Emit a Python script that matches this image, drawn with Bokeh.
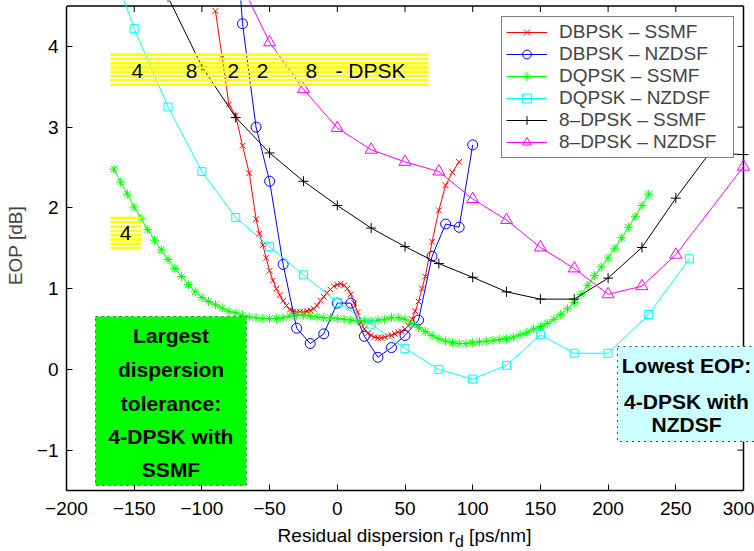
from bokeh.plotting import figure
from bokeh.models import Range1d, FixedTicker, Legend, LegendItem, Div
from bokeh.layouts import column
from bokeh.core.properties import value
from bokeh.embed import file_html
from bokeh.resources import INLINE

FONT = "Liberation Sans"

x_ticks = [-200, -150, -100, -50, 0, 50, 100, 150, 200, 250, 300]
y_ticks = [-1, 0, 1, 2, 3, 4]
x_min, x_max = -200, 300
y_min, y_max = -1.5, 4.5

# DBPSK - SSMF (red, x)
dbpsk_ssmf_x = [-90, -85, -80, -75, -70, -65, -60, -57.5, -55, -52.5, -50, -47.5, -45, -42.5, -40,
                -37.5, -35, -32.5, -30, -27.5, -25, -22.5, -20, -17.5, -15, -12.5, -10, -7.5, -5,
                -2.5, 0, 2.5, 5, 7.5, 10, 12.5, 15, 17.5, 20, 22.5, 25, 27.5, 30, 32.5, 35, 37.5,
                40, 42.5, 45, 47.5, 50, 52.5, 55, 57.5, 60, 62.5, 65, 70, 75, 80, 85, 90]
dbpsk_ssmf_y = [4.44, 3.86, 3.28, 3.14, 2.77, 2.43, 1.86, 1.68, 1.54, 1.38, 1.22, 1.10, 1.00, 0.92, 0.85,
                0.79, 0.74, 0.72, 0.71, 0.71, 0.71, 0.72, 0.73, 0.75, 0.79, 0.85, 0.90, 0.95, 0.99,
                1.03, 1.05, 1.06, 1.04, 1.00, 0.93, 0.82, 0.71, 0.58, 0.50, 0.45, 0.42, 0.40, 0.39, 0.39, 0.40, 0.41,
                0.42, 0.44, 0.46, 0.47, 0.50, 0.54, 0.62, 0.72, 0.84, 1.00, 1.15, 1.58, 1.97, 2.28, 2.44, 2.57]

# DBPSK - NZDSF (blue, o)
dbpsk_nzdsf_x = [-80, -70, -60, -50, -40, -30, -20, -10, 0, 10, 20, 30, 40, 50, 60, 70, 80, 90, 100]
dbpsk_nzdsf_y = [6.6, 4.28, 3.00, 2.33, 1.30, 0.51, 0.32, 0.44, 0.82, 0.82, 0.41, 0.15, 0.27, 0.42, 0.61,
                 1.40, 1.80, 1.76, 2.78]

# DQPSK - SSMF (green, *)
dqpsk_ssmf_x = [-165, -160, -155, -150, -145, -140, -135, -130, -125, -120, -115, -110, -105, -100, -95,
                -90, -85, -80, -75, -70, -65, -60, -55, -50, -45, -40, -35, -30, -25, -20, -15, -10,
                -5, 0, 5, 10, 15, 20, 25, 30, 35, 40, 45, 50, 55, 60, 65, 70, 75, 80, 85, 90, 95, 100,
                105, 110, 115, 120, 125, 130, 135, 140, 145, 150, 155, 160, 165, 170, 175, 180, 185,
                190, 195, 200, 205, 210, 215, 220, 225, 230]
dqpsk_ssmf_y = [2.48, 2.32, 2.17, 2.01, 1.87, 1.73, 1.60, 1.48, 1.36, 1.25, 1.15, 1.05, 0.96, 0.89, 0.84,
                0.80, 0.76, 0.72, 0.70, 0.67, 0.65, 0.64, 0.63, 0.63, 0.63, 0.64, 0.66, 0.67, 0.67, 0.66,
                0.65, 0.64, 0.64, 0.63, 0.62, 0.61, 0.60, 0.60, 0.60, 0.61, 0.62, 0.64, 0.64, 0.62, 0.57,
                0.52, 0.47, 0.42, 0.38, 0.35, 0.33, 0.32, 0.32, 0.33, 0.34, 0.35, 0.36, 0.37, 0.38, 0.40,
                0.43, 0.46, 0.50, 0.53, 0.57, 0.62, 0.68, 0.75, 0.83, 0.93, 1.04, 1.16, 1.27, 1.38, 1.50,
                1.63, 1.76, 1.89, 2.03, 2.17]

# DQPSK - NZDSF (cyan, square)
dqpsk_nzdsf_x = [-175, -150, -125, -100, -75, -50, -25, 0, 25, 50, 75, 100, 125, 150, 175, 200, 230, 260]
dqpsk_nzdsf_y = [5.4, 4.22, 3.25, 2.45, 1.88, 1.52, 1.17, 0.83, 0.56, 0.26, 0.00, -0.12, 0.05, 0.43,
                 0.20, 0.20, 0.68, 1.37]

# 8-DPSK - SSMF (black, +)
dpsk8_ssmf_x = [-125, -100, -75, -50, -25, 0, 25, 50, 75, 100, 125, 150, 175, 200, 225, 250, 275, 300]
dpsk8_ssmf_y = [4.61, 3.75, 3.12, 2.68, 2.33, 2.03, 1.75, 1.52, 1.31, 1.14, 0.96, 0.87, 0.87, 1.13,
                1.51, 2.12, 2.68, 2.66]

# 8-DPSK - NZDSF (magenta, triangle)
dpsk8_nzdsf_x = [-75, -50, -25, 0, 25, 50, 75, 100, 125, 150, 175, 200, 225, 250, 300]
dpsk8_nzdsf_y = [4.91, 4.05, 3.47, 2.99, 2.72, 2.57, 2.45, 2.11, 1.85, 1.51, 1.25, 0.93, 1.03, 1.42, 2.51]

series = [
    ("DBPSK \u2013 SSMF", dbpsk_ssmf_x, dbpsk_ssmf_y, "#ff0000", "x", 8),
    ("DBPSK \u2013 NZDSF", dbpsk_nzdsf_x, dbpsk_nzdsf_y, "#0000ff", "circle", 10),
    ("DQPSK \u2013 SSMF", dqpsk_ssmf_x, dqpsk_ssmf_y, "#00ff00", "asterisk", 9),
    ("DQPSK \u2013 NZDSF", dqpsk_nzdsf_x, dqpsk_nzdsf_y, "#00ffff", "square", 8),
    ("8\u2013DPSK \u2013 SSMF", dpsk8_ssmf_x, dpsk8_ssmf_y, "#000000", "cross", 10),
    ("8\u2013DPSK \u2013 NZDSF", dpsk8_nzdsf_x, dpsk8_nzdsf_y, "#ff00ff", "triangle", 12),
]

# layout (pixels): frame runs to the window's right edge so the cyan note can overflow the box
W, H = 754, 525
left_px, right_px, top_px, bottom_px = 66, 743, 5.5, 490
xs_px = (right_px - left_px) / (x_max - x_min)
ys_px = (bottom_px - top_px) / (y_max - y_min)
x_end = x_max + (W - right_px) / xs_px
y_end = y_max + top_px / ys_px

p = figure(width=W, height=H, output_backend="svg", toolbar_location=None,
           x_range=Range1d(x_min, x_end), y_range=Range1d(y_min, y_end),
           min_border_left=left_px, min_border_right=0, min_border_top=0,
           min_border_bottom=H - bottom_px,
           background_fill_color="white", border_fill_color="white")
p.grid.visible = False
p.outline_line_color = None

xa = p.xaxis[0]
ya = p.yaxis[0]
for ax, ticks, bnds in [(xa, x_ticks, (x_min, x_max)), (ya, y_ticks, (y_min, y_max))]:
    ax.ticker = FixedTicker(ticks=ticks)
    ax.bounds = bnds
    ax.major_tick_in = 6
    ax.major_tick_out = 0
    ax.minor_tick_line_color = None
    ax.axis_line_width = 1.5
    ax.major_tick_line_width = 1
    ax.major_label_text_font = FONT
    ax.major_label_text_font_size = "19px"
    ax.major_label_text_color = "black"
    ax.major_label_overrides = {t: str(t).replace("-", "\u2212") for t in ticks}
xa.major_label_standoff = 11
ya.major_label_standoff = 8
ya.axis_label = "EOP [dB]"
ya.axis_label_text_font = FONT
ya.axis_label_text_font_size = "19px"
ya.axis_label_text_font_style = "normal"
ya.axis_label_standoff = 8

# top and right box lines with inward ticks
tick_dx = 6 / xs_px
tick_dy = 6 / ys_px
p.segment(x0=[x_min, x_max], y0=[y_max, y_min], x1=[x_max, x_max], y1=[y_max, y_max],
          line_color="black", line_width=1.5)
p.segment(x0=x_ticks, y0=[y_max] * len(x_ticks), x1=x_ticks, y1=[y_max - tick_dy] * len(x_ticks),
          line_color="black", line_width=1)
p.segment(x0=[x_max] * len(y_ticks), y0=y_ticks, x1=[x_max - tick_dx] * len(y_ticks), y1=y_ticks,
          line_color="black", line_width=1)

items = []
for name, xs, ys, col, mk, sz in series:
    ln = p.line(xs, ys, line_color=col, line_width=1)
    sc = p.scatter(xs, ys, marker=mk, size=sz, line_color=col, fill_color=None, line_width=1)
    items.append(LegendItem(label=name, renderers=[ln, sc]))

# yellow striped boxes
p.quad(left=[-167.5, -167.5], right=[67.4, -144.6], bottom=[3.503, 1.484], top=[3.924, 1.906],
       fill_alpha=0, line_alpha=0, hatch_pattern="horizontal_line", hatch_color="#ffff00",
       hatch_weight=3, hatch_scale=4.3)
p.text(x=[-147.6, -107.7, -76.7, -55.2, -19.1], y=[3.70] * 5, text=["4", "8", "2", "2", "8"],
       text_font=value(FONT), text_font_size="21px", text_align="center", text_baseline="middle",
       text_color="black")
p.text(x=[-1.3], y=[3.70], text=["- DPSK"], text_font=value(FONT), text_font_size="21px",
       text_align="left", text_baseline="middle", text_color="black")
p.text(x=[-156.4], y=[1.683], text=["4"], text_font=value(FONT), text_font_size="21px",
       text_align="center", text_baseline="middle", text_color="black")

# green box
p.quad(left=[-178.6], right=[-67.1], bottom=[-1.438], top=[0.655], fill_color="#00ff00",
       line_color="#555555", line_dash="dotted", line_width=1)
p.text(x=[-122.8] * 5, y=[0.419, -0.002, -0.423, -0.831, -1.240],
       text=["Largest", "dispersion", "tolerance:", "4-DPSK with", "SSMF"],
       text_font=value(FONT), text_font_size="21px", text_font_style="bold",
       text_align="center", text_baseline="middle", text_color="black")

# cyan box, running past the right edge of the axes
p.quad(left=[206.9], right=[x_end + 5], bottom=[-0.893], top=[0.283], fill_color="#ccffff",
       line_color="#444444", line_dash="dotted", line_width=1)
p.text(x=[257.9] * 3, y=[0.042, -0.392, -0.683],
       text=["Lowest EOP:", "4-DPSK with", "NZDSF"],
       text_font=value(FONT), text_font_size="21px", text_font_style="bold",
       text_align="center", text_baseline="middle", text_color="black")

legend = Legend(items=items, location=(435, 332), margin=0, padding=4, spacing=0,
                label_text_font=FONT, label_text_font_size="19px", label_height=22,
                glyph_height=22, glyph_width=41, label_standoff=12, label_width=170,
                border_line_color="black", border_line_width=1.5, background_fill_color="white",
                background_fill_alpha=1)
p.add_layout(legend)

xlabel = Div(text="Residual dispersion r<sub>d</sub> [ps/nm]", width=right_px - left_px, height=26,
             margin=(0, W - right_px, 0, left_px),
             styles={"font-family": FONT, "font-size": "19px", "text-align": "center",
                     "line-height": "22px", "color": "black"})

layout = column(p, xlabel, spacing=0)
open("out.html", "w").write(file_html(layout, INLINE))
